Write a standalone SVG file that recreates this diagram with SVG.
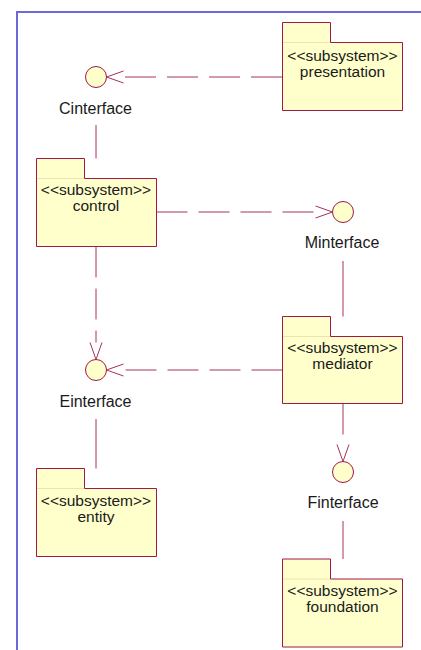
<svg xmlns="http://www.w3.org/2000/svg" width="421" height="650" viewBox="0 0 421 650">
  <style>
    .frame { fill: none; stroke: #6b6bd6; stroke-width: 2; }
    .pkg-fill { fill: #ffffcc; stroke: none; }
    .pkg-line { fill: none; stroke: #a01848; stroke-width: 1; }
    .pkg-sep { fill: none; stroke: #eee2b0; stroke-width: 1; }
    .iface { fill: #ffffcc; stroke: #a01848; stroke-width: 1; }
    .dep { fill: none; stroke: #a8305e; stroke-width: 1; stroke-dasharray: 31 11; }
    .real { fill: none; stroke: #a8305e; stroke-width: 1; }
    .head { fill: none; stroke: #a8305e; stroke-width: 1; stroke-dasharray: none; }
    text { font-family: "Liberation Sans", Arial, sans-serif; fill: #1a1a1a; text-anchor: middle; }
    .stereo { font-size: 15.5px; }
    .label { font-size: 16px; }
  </style>
  <defs>
    <!-- open arrowhead, tip drawn 17px past the end of the dashed line -->
    <marker id="open" markerUnits="userSpaceOnUse" viewBox="-18 -7 19 14" markerWidth="19" markerHeight="14" refX="-17" refY="0" orient="auto">
      <path class="head" d="M-17,-6 L0,0 L-17,6"/>
    </marker>
  </defs>

  <!-- diagram frame -->
  <path class="frame" d="M17,650 V12 H421"/>

  <!-- connectors -->
  <g id="connectors">
    <path class="dep" d="M282,77 H123.5" marker-end="url(#open)"/>
    <path class="real" d="M96,125 V158.5"/>
    <path class="dep" d="M156.5,212 H315.5" marker-end="url(#open)"/>
    <path class="real" d="M343,261 V316.5"/>
    <path class="dep" d="M96,246.5 V342.5" marker-end="url(#open)"/>
    <path class="dep" d="M282.5,370 H123.5" marker-end="url(#open)"/>
    <path class="real" d="M96,419 V468.5"/>
    <path class="dep" d="M343,403.5 V444.5" marker-end="url(#open)"/>
    <path class="real" d="M343,521 V559"/>
  </g>

  <!-- interfaces -->
  <g id="Cinterface">
    <circle class="iface" cx="96" cy="77" r="10.5"/>
    <text class="label" x="95.5" y="113.5">Cinterface</text>
  </g>
  <g id="Minterface">
    <circle class="iface" cx="343" cy="212" r="10.5"/>
    <text class="label" x="342" y="248">Minterface</text>
  </g>
  <g id="Einterface">
    <circle class="iface" cx="96" cy="370" r="10.5"/>
    <text class="label" x="95.5" y="406.5">Einterface</text>
  </g>
  <g id="Finterface">
    <circle class="iface" cx="343" cy="472" r="10.5"/>
    <text class="label" x="343" y="508">Finterface</text>
  </g>

  <!-- subsystem packages -->
  <g id="presentation" transform="translate(282.5,22.5)">
    <rect class="pkg-fill" x="0" y="0" width="48" height="20"/>
    <rect class="pkg-fill" x="0" y="20" width="120" height="68"/>
    <path class="pkg-sep" d="M0.5,20 H47.5"/>
    <path class="pkg-line" d="M0,88 V0 H48 V20 H120 V88 Z"/>
    <text class="stereo" x="60" y="38">&lt;&lt;subsystem&gt;&gt;</text>
    <text class="stereo" x="60" y="54">presentation</text>
  </g>
  <g id="control" transform="translate(36.5,158.5)">
    <rect class="pkg-fill" x="0" y="0" width="48" height="20"/>
    <rect class="pkg-fill" x="0" y="20" width="120" height="68"/>
    <path class="pkg-sep" d="M0.5,20 H47.5"/>
    <path class="pkg-line" d="M0,88 V0 H48 V20 H120 V88 Z"/>
    <text class="stereo" x="59.5" y="36">&lt;&lt;subsystem&gt;&gt;</text>
    <text class="stereo" x="59.5" y="52">control</text>
  </g>
  <g id="mediator" transform="translate(282.5,316.5)">
    <rect class="pkg-fill" x="0" y="0" width="48" height="20"/>
    <rect class="pkg-fill" x="0" y="20" width="120" height="67"/>
    <path class="pkg-sep" d="M0.5,20 H47.5"/>
    <path class="pkg-line" d="M0,87 V0 H48 V20 H120 V87 Z"/>
    <text class="stereo" x="60" y="36">&lt;&lt;subsystem&gt;&gt;</text>
    <text class="stereo" x="60" y="52">mediator</text>
  </g>
  <g id="entity" transform="translate(36.5,468.5)">
    <rect class="pkg-fill" x="0" y="0" width="48" height="20"/>
    <rect class="pkg-fill" x="0" y="20" width="120" height="68"/>
    <path class="pkg-sep" d="M0.5,20 H47.5"/>
    <path class="pkg-line" d="M0,88 V0 H48 V20 H120 V88 Z"/>
    <text class="stereo" x="59.5" y="37">&lt;&lt;subsystem&gt;&gt;</text>
    <text class="stereo" x="59.5" y="53">entity</text>
  </g>
  <g id="foundation" transform="translate(282.5,559)">
    <rect class="pkg-fill" x="0" y="0" width="48" height="20"/>
    <rect class="pkg-fill" x="0" y="20" width="120" height="68"/>
    <path class="pkg-sep" d="M0.5,20 H47.5"/>
    <path class="pkg-line" d="M0,88 V0 H48 V20 H120 V88 Z"/>
    <text class="stereo" x="60" y="36.5">&lt;&lt;subsystem&gt;&gt;</text>
    <text class="stereo" x="60" y="52.5">foundation</text>
  </g>
</svg>
